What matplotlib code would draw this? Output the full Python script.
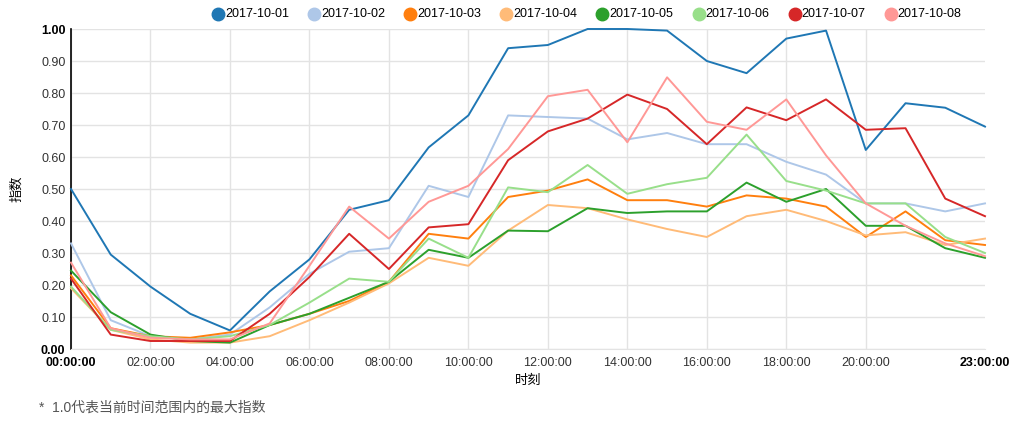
import matplotlib
matplotlib.use("Agg")
import matplotlib.pyplot as plt
from matplotlib.lines import Line2D

plt.rcParams['font.family'] = ['Liberation Sans', 'Noto Sans CJK SC', 'DejaVu Sans']

hours = list(range(24))
x_tick_pos = [0, 2, 4, 6, 8, 10, 12, 14, 16, 18, 20, 23]
x_tick_labels = ["00:00:00", "02:00:00", "04:00:00", "06:00:00", "08:00:00", "10:00:00",
                 "12:00:00", "14:00:00", "16:00:00", "18:00:00", "20:00:00", "23:00:00"]
y_ticks = [0.0, 0.1, 0.2, 0.3, 0.4, 0.5, 0.6, 0.7, 0.8, 0.9, 1.0]

labels = ["2017-10-01", "2017-10-02", "2017-10-03", "2017-10-04",
          "2017-10-05", "2017-10-06", "2017-10-07", "2017-10-08"]
colors = ["#1f77b4", "#aec7e8", "#ff7f0e", "#ffbb78",
          "#2ca02c", "#98df8a", "#d62728", "#ff9896"]

d1001 = [0.50, 0.295, 0.195, 0.11, 0.058, 0.18, 0.28, 0.435, 0.465, 0.63, 0.73, 0.94,
         0.95, 1.00, 1.00, 0.995, 0.90, 0.862, 0.97, 0.995, 0.622, 0.768, 0.754, 0.695]
d1002 = [0.33, 0.09, 0.04, 0.03, 0.045, 0.13, 0.235, 0.304, 0.315, 0.51, 0.475, 0.73,
         0.725, 0.72, 0.655, 0.675, 0.64, 0.64, 0.585, 0.545, 0.455, 0.455, 0.43, 0.455]
d1003 = [0.23, 0.065, 0.04, 0.035, 0.052, 0.075, 0.11, 0.15, 0.21, 0.36, 0.345, 0.475,
         0.495, 0.53, 0.465, 0.465, 0.445, 0.48, 0.47, 0.445, 0.35, 0.43, 0.34, 0.325]
d1004 = [0.19, 0.06, 0.03, 0.02, 0.02, 0.04, 0.09, 0.145, 0.205, 0.285, 0.26, 0.37,
         0.45, 0.44, 0.405, 0.375, 0.35, 0.415, 0.435, 0.40, 0.355, 0.365, 0.325, 0.345]
d1005 = [0.245, 0.115, 0.045, 0.025, 0.02, 0.075, 0.11, 0.16, 0.21, 0.31, 0.285, 0.37,
         0.368, 0.44, 0.425, 0.43, 0.43, 0.52, 0.46, 0.50, 0.385, 0.385, 0.315, 0.285]
d1006 = [0.195, 0.06, 0.04, 0.03, 0.04, 0.075, 0.145, 0.22, 0.21, 0.345, 0.285, 0.505,
         0.49, 0.575, 0.485, 0.515, 0.535, 0.67, 0.525, 0.495, 0.455, 0.455, 0.35, 0.30]
d1007 = [0.22, 0.045, 0.025, 0.025, 0.025, 0.11, 0.225, 0.36, 0.25, 0.38, 0.39, 0.59,
         0.68, 0.72, 0.795, 0.75, 0.64, 0.755, 0.715, 0.78, 0.685, 0.69, 0.47, 0.415]
d1008 = [0.27, 0.065, 0.035, 0.03, 0.03, 0.08, 0.26, 0.445, 0.345, 0.46, 0.51, 0.625,
         0.79, 0.81, 0.646, 0.849, 0.71, 0.685, 0.78, 0.605, 0.455, 0.385, 0.33, 0.29]
series = [d1001, d1002, d1003, d1004, d1005, d1006, d1007, d1008]

W, H = 1019, 425
fig = plt.figure(figsize=(W / 100, H / 100), dpi=100)
ax = fig.add_axes([71 / W, 1 - 349 / H, (985 - 71) / W, (349 - 29) / H])

for vals, c in zip(series, colors):
    ax.plot(hours, vals, color=c, lw=1.4, clip_on=False, zorder=3)

ax.set_xlim(0, 23)
ax.set_ylim(0, 1.0)
ax.set_yticks(y_ticks)
ax.set_yticklabels(["%.2f" % v for v in y_ticks])
ax.set_xticks(x_tick_pos)
ax.set_xticklabels(x_tick_labels)
ax.tick_params(axis='both', length=0, labelsize=9, labelcolor='#333333')
ax.tick_params(axis='y', pad=4)
ax.tick_params(axis='x', pad=6)
for lab in (ax.get_xticklabels()[0], ax.get_xticklabels()[-1],
            ax.get_yticklabels()[0], ax.get_yticklabels()[-1]):
    lab.set_fontweight('bold')
    lab.set_color('#000000')

ax.grid(True, color='#e3e3e3', lw=1.0, zorder=0)
ax.xaxis.get_gridlines()[-1].set_visible(False)
ax.set_axisbelow(True)
for s in ['top', 'right']:
    ax.spines[s].set_visible(False)
ax.spines['bottom'].set_color('#e3e3e3')
ax.spines['left'].set_color('#000000')
ax.spines['left'].set_linewidth(1.2)

fig.text(17 / W, 1 - 189 / H, "指数", rotation=90, ha='center', va='center', fontsize=9.5, color='#000000')
fig.text(528 / W, 1 - 381 / H, "时刻", ha='center', va='center', fontsize=9.5, color='#000000')
fig.text(39 / W, 1 - 408 / H, "*  1.0代表当前时间范围内的最大指数", ha='left', va='center',
         fontsize=10, color='#555555')

# legend
for i, (lab, c) in enumerate(zip(labels, colors)):
    cx = 218 + i * 96.1
    cy = 1 - 14 / H
    fig.add_artist(Line2D([cx / W], [cy], marker='o', markersize=9, color=c,
                          markeredgecolor=c, linestyle='none', transform=fig.transFigure))
    fig.text((cx + 7) / W, cy, lab, ha='left', va='center', fontsize=9, color='#000000')

fig.savefig("out.png", dpi=100)
